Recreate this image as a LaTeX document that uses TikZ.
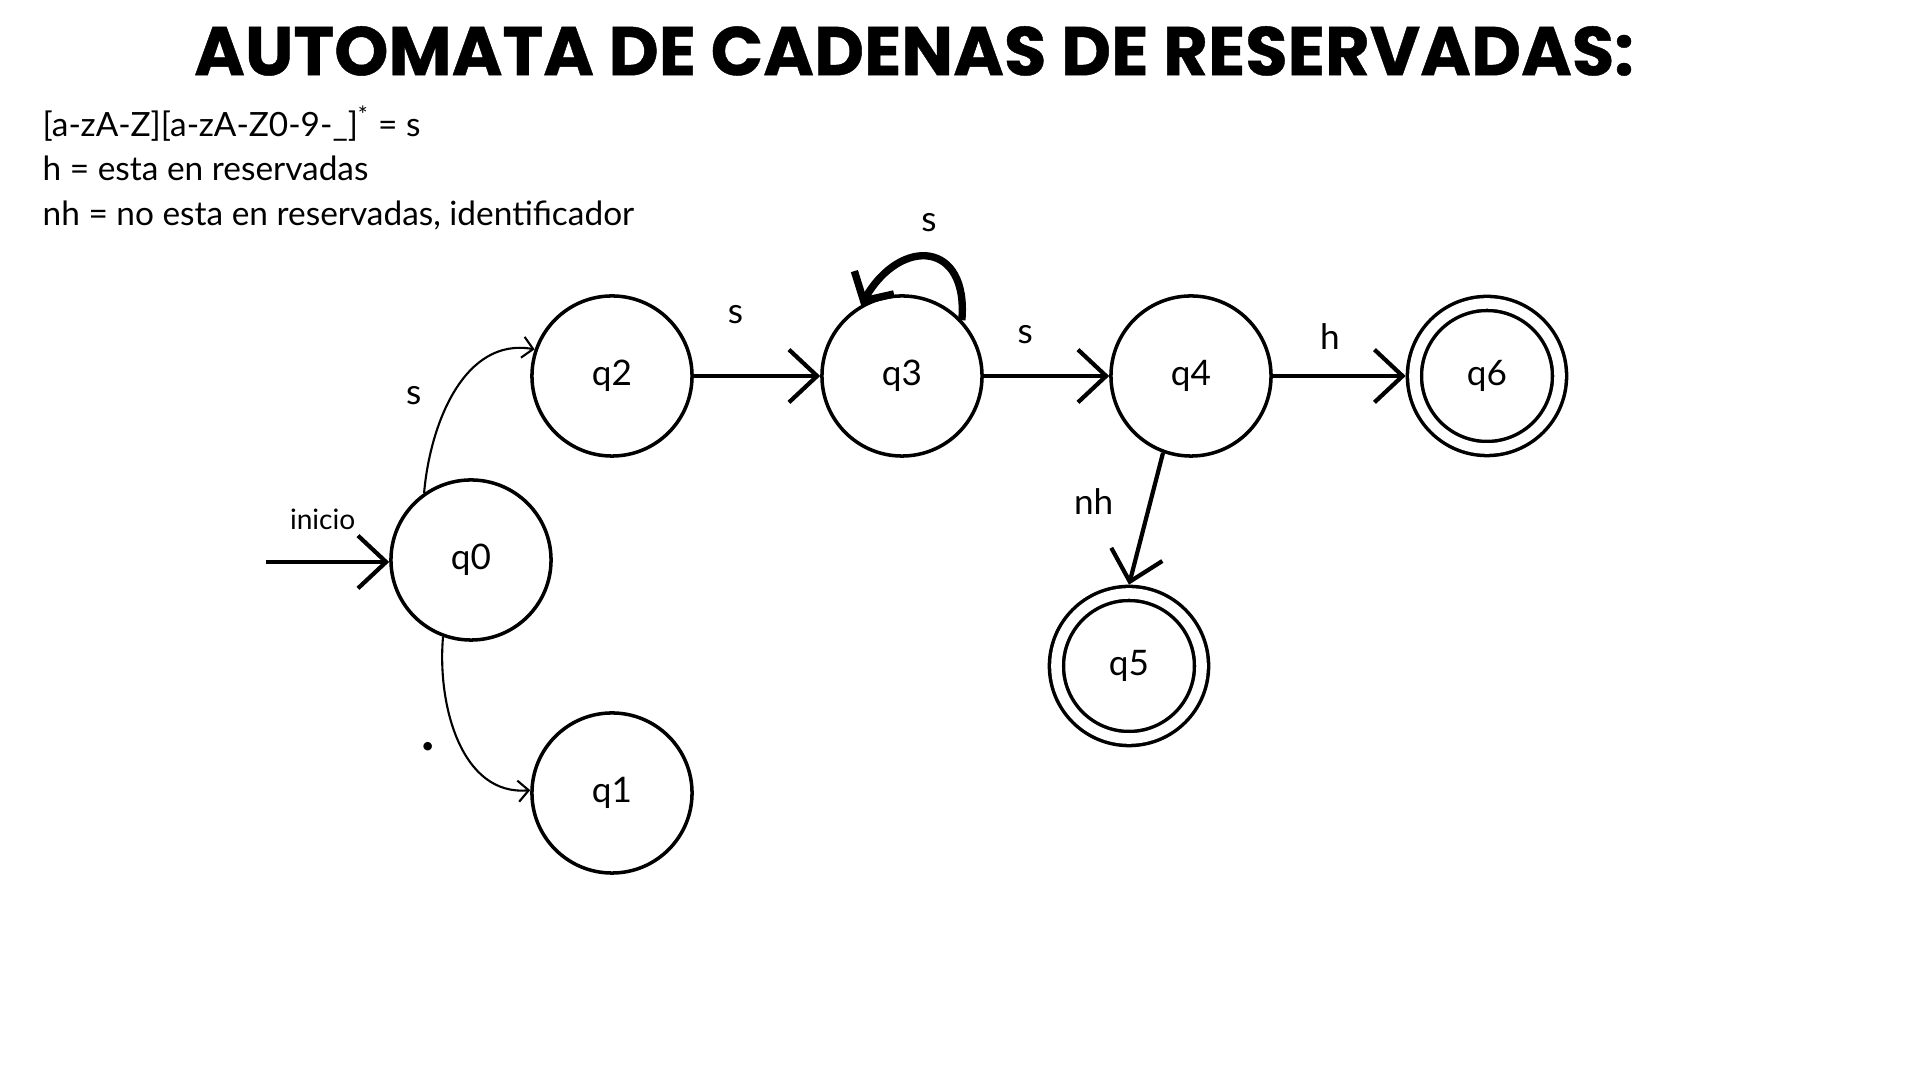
\documentclass[tikz,border=0pt]{standalone}
\usepackage{fontspec}
\setmainfont{Lato}
\newfontfamily\titlefont{Poppins}[FakeBold=0.6]
\usetikzlibrary{arrows.meta}

\begin{document}
\begin{tikzpicture}[x=0.01cm, y=-0.01cm,
    state/.style={circle, draw, line width=1pt, minimum size=1.6cm, font=\fontsize{10}{12}\selectfont},
    final/.style={state, double, double distance=3pt, minimum size=1.45cm, outer sep=2.5pt},
    trans/.style={line width=1.2pt, -{Straight Barb[length=8pt, width=15pt, line width=1.2pt]}},
    curvy/.style={line width=0.6pt, -{Straight Barb[length=3pt, width=6pt]}},
    lbl/.style={inner sep=0pt, font=\fontsize{10}{12}\selectfont},
    legend/.style={anchor=base west, inner sep=0pt, font=\fontsize{9.5}{11}\selectfont}]

            \useasboundingbox (0,0) rectangle (1920,1080);

            % Title
            \node (title) at (914,51) {\titlefont\bfseries\fontsize{19.6}{24}\selectfont AUTOMATA DE CADENAS DE RESERVADAS:};

            % Legend
            \node[legend] (leg1) at (42,137) {[a-zA-Z][a-zA-Z0-9-\_]\textsuperscript{*} = s};
            \node[legend] (leg2) at (42,181) {h = esta en reservadas};
            \node[legend] (leg3) at (42,226) {nh = no esta en reservadas, identificador};

            % States
            \node[state] (q0) at (471,560) {q0};
            \node[state] (q1) at (612,793) {q1};
            \node[state] (q2) at (612,376) {q2};
            \node[state] (q3) at (902,376) {q3};
            \node[state] (q4) at (1191,376) {q4};
            \node[final] (q5) at (1129,666) {q5};
            \node[final] (q6) at (1487,376) {q6};

            % Start arrow
            \coordinate (start) at (266,562);
            \draw[trans] (start) -- node[lbl, pos=0.46, above=0.3cm, font=\fontsize{8}{10}\selectfont] {inicio} (q0.west |- start);

            % Transitions
            \draw[curvy] (q0.125) to[out=85, in=170] node[lbl, pos=0.47, left=0.3cm] {s} (q2.161);
            \draw[curvy] (q0.250) to[out=-95, in=185] node[lbl, pos=0.53, left=0.25cm, font=\bfseries\fontsize{16}{16}\selectfont] {.} (q1.178);
            \draw[trans] (q2) -- node[lbl, pos=0.33, above=0.5cm] {s} (q3);
            \draw[line width=2.1pt, -{Straight Barb[length=6pt, width=13pt, line width=2.1pt]}]
                (q3.43) to[out=85, in=60, looseness=2] node[lbl, above=0.22cm] {s} (q3.120);
            \draw[trans] (q3) -- node[lbl, pos=0.33, above=0.3cm] {s} (q4);
            \draw[trans] (q4) -- node[lbl, pos=0.43, above=0.24cm] {h} (q6);
            \draw[trans] (q4.250) -- node[lbl, pos=0.37, left=0.35cm] {nh} (q5.north);
\end{tikzpicture}
\end{document}
